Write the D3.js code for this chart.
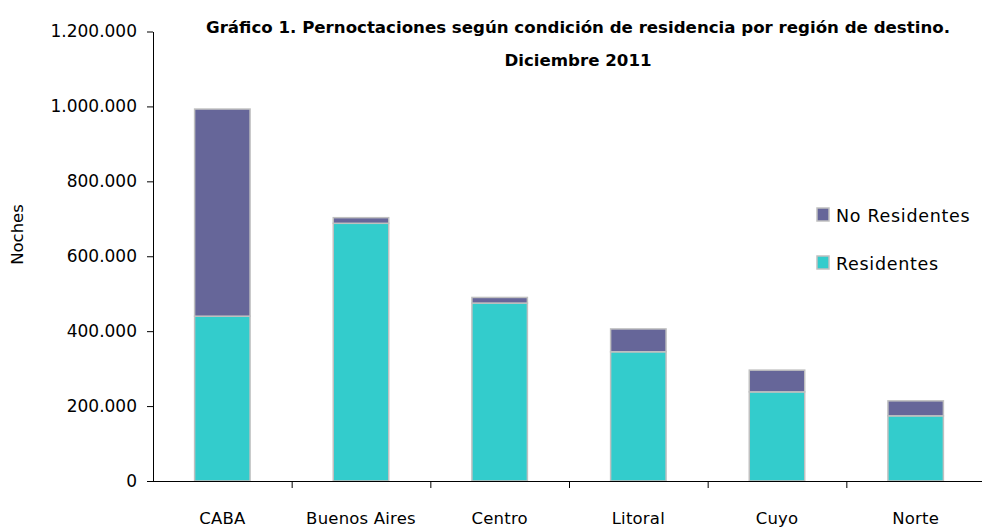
<!DOCTYPE html>
<html><head><meta charset="utf-8">
<script src="https://cdn.jsdelivr.net/npm/d3@7"></script>
<style>
body{margin:0;background:#fff;}
svg{display:block;font-family:"DejaVu Sans",Verdana,sans-serif;}
</style></head>
<body><svg id="c" width="982" height="527"></svg>
<script>
const categories = ["CABA","Buenos Aires","Centro","Litoral","Cuyo","Norte"];
const residentes = [440000, 688000, 475000, 345000, 238000, 174000];
const noResidentes = [553000, 15000, 15000, 61000, 58000, 40000];
const yTicks = [0,200000,400000,600000,800000,1000000,1200000];
const seriesNames = ["Residentes","No Residentes"];
const colors = ["#33CCCC","#666699"];
const titleLines = ["Gráfico 1. Pernoctaciones según condición de residencia por región de destino.","Diciembre 2011"];

const svg = d3.select("#c");
const x0 = 153, x1 = 985, yBottom = 481, yTop = 31.5;
const x = d3.scaleBand().domain(categories).range([x0,x1]).paddingInner(0.6).paddingOuter(0.3);
const y = d3.scaleLinear().domain([0,1200000]).range([yBottom,yTop]);
const fmt = v => d3.format(",")(v).replace(/,/g,".");

// stacked data
const rows = categories.map((c,i)=>({cat:c, Residentes:residentes[i], "No Residentes":noResidentes[i]}));
const stack = d3.stack().keys(seriesNames)(rows);

svg.append("g").selectAll("g").data(stack).join("g")
  .attr("fill",(d,i)=>colors[i])
  .selectAll("rect").data(d=>d).join("rect")
  .attr("x",d=>x(d.data.cat))
  .attr("width",x.bandwidth())
  .attr("y",d=>y(d[1]))
  .attr("height",d=>y(d[0])-y(d[1]))
  .attr("stroke","#c0c0c0").attr("stroke-width",1.5);

// y axis
const ya = svg.append("g").attr("transform",`translate(${x0},0)`)
  .call(d3.axisLeft(y).tickValues(yTicks).tickFormat(fmt).tickSize(6).tickSizeOuter(0));
ya.select(".domain").attr("stroke","#000");
ya.selectAll(".tick line").attr("stroke","#000");
ya.selectAll("text").attr("font-size",17).attr("fill","#000").attr("font-family","DejaVu Sans").attr("x",-16);

// x axis
const step = x.step();
const gap = step - x.bandwidth();
svg.append("line").attr("x1",x0).attr("x2",x1).attr("y1",yBottom+0.5).attr("y2",yBottom+0.5).attr("stroke","#000");
svg.append("g").selectAll("line").data(categories.slice(1)).join("line")
  .attr("x1",d=>x(d)-gap/2+0.5).attr("x2",d=>x(d)-gap/2+0.5)
  .attr("y1",yBottom).attr("y2",yBottom+7).attr("stroke","#000");
svg.append("g").selectAll("text").data(categories).join("text")
  .attr("x",d=>x(d)+x.bandwidth()/2).attr("y",524)
  .attr("text-anchor","middle").attr("font-size",16.5).attr("letter-spacing",0.2).attr("fill","#000")
  .text(d=>d);

// y label
svg.append("text").attr("transform","translate(23,234.5) rotate(-90)")
  .attr("text-anchor","middle").attr("font-size",16.5).text("Noches");

// title
const tl = svg.append("g").selectAll("text").data(titleLines).join("text")
  .attr("x",578).attr("y",(d,i)=>32.5+i*33.5)
  .attr("text-anchor","middle").attr("font-size",16).attr("font-weight","bold")
  .attr("font-family","'DejaVu Sans',sans-serif")
  .text(d=>d);
const w0 = tl.node().getComputedTextLength();
tl.attr("font-size",16*745/w0);

// legend
const legendItems = [{name:"No Residentes",c:colors[1]},{name:"Residentes",c:colors[0]}];
const lg = svg.append("g").selectAll("g").data(legendItems).join("g")
  .attr("transform",(d,i)=>`translate(817,${208+i*48})`);
lg.append("rect").attr("width",12).attr("height",13).attr("fill",d=>d.c).attr("stroke","#c0c0c0").attr("stroke-width",1.5);
lg.append("text").attr("x",19).attr("y",13.5).attr("font-size",17.5).attr("letter-spacing",0.7).text(d=>d.name);
</script></body></html>
